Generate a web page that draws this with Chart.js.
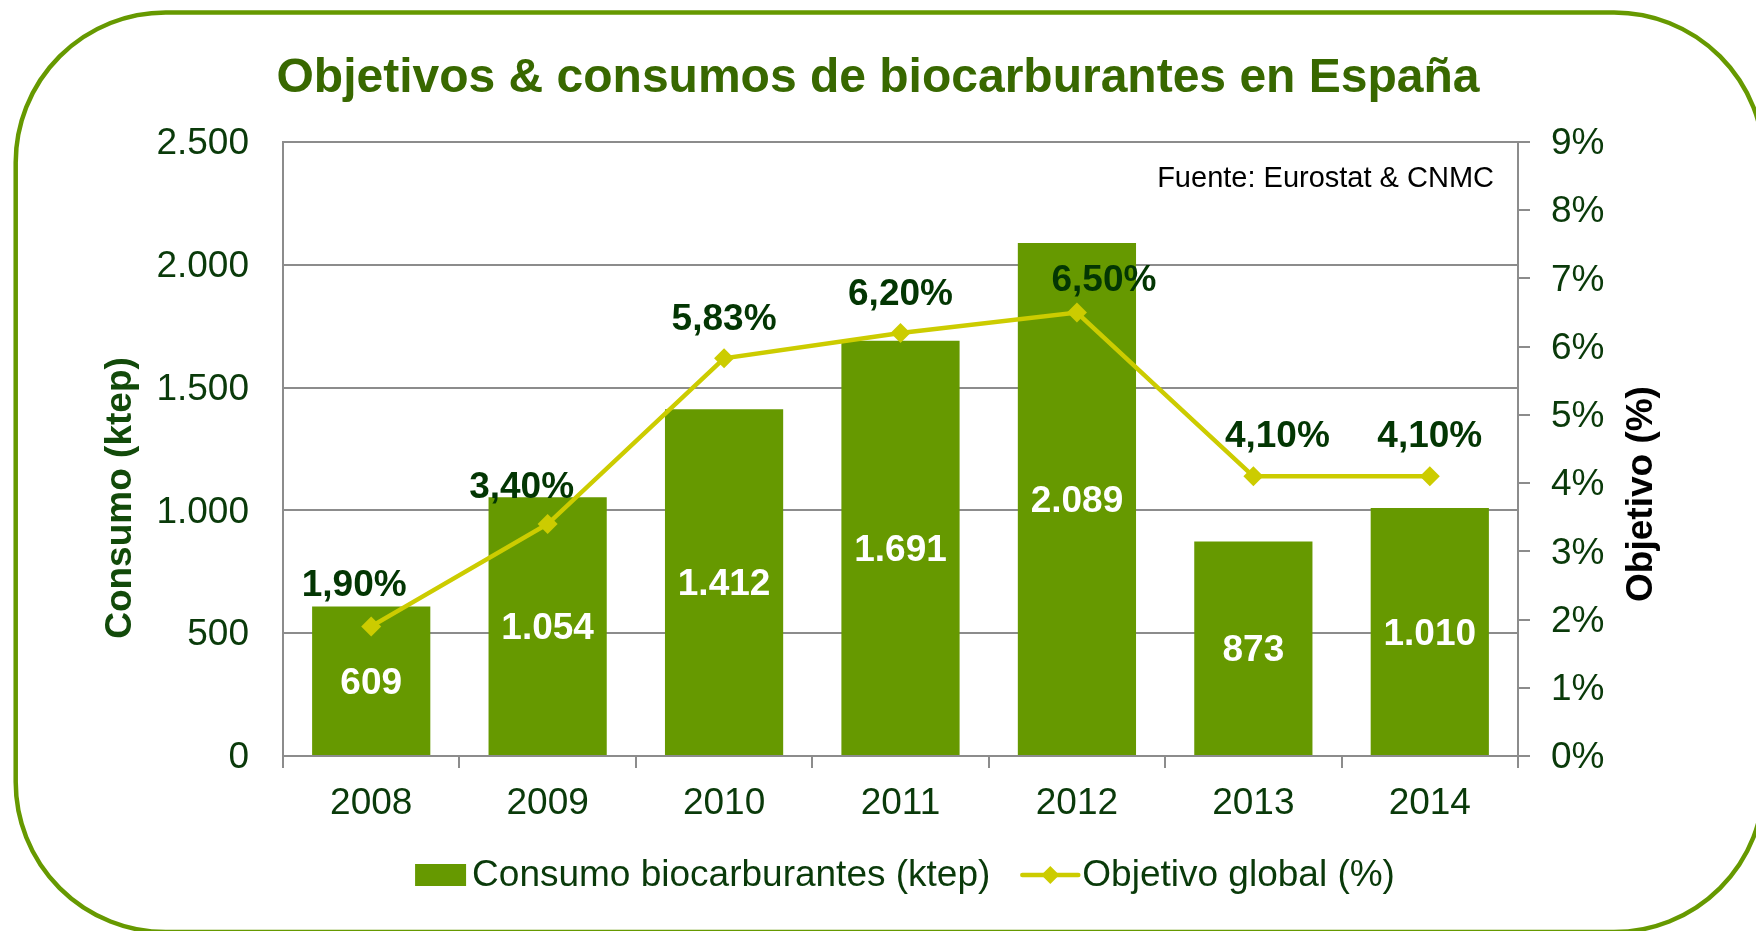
<!DOCTYPE html>
<html>
<head>
<meta charset="utf-8">
<script src="https://cdn.jsdelivr.net/npm/chart.js@4.4.1/dist/chart.umd.min.js"></script>
<style>
  html, body { margin: 0; padding: 0; background: #ffffff; }
  #wrap { width: 1756px; height: 931px; position: relative; }
</style>
</head>
<body>
<div id="wrap"><canvas id="c" width="1756" height="931"></canvas></div>
<script>
// ---- Data ----
const categories = ['2008', '2009', '2010', '2011', '2012', '2013', '2014'];
const consumo = [609, 1054, 1412, 1691, 2089, 873, 1010];
const objetivo = [1.90, 3.40, 5.83, 6.20, 6.50, 4.10, 4.10];
const leftTickLabels = ['0', '500', '1.000', '1.500', '2.000', '2.500'];
const rightTickLabels = ['0%', '1%', '2%', '3%', '4%', '5%', '6%', '7%', '8%', '9%'];
const seriesNames = ['Consumo biocarburantes (ktep)', 'Objetivo global (%)'];
const chartTitle = 'Objetivos & consumos de biocarburantes en España';
const sourceNote = 'Fuente: Eurostat & CNMC';
const leftAxisTitle = 'Consumo (ktep)';
const rightAxisTitle = 'Objetivo (%)';

// ---- Styles ----
const FONT = "'Liberation Sans', Arial, sans-serif";
const BAR = '#669900';
const LINE = '#cccc00';
const GRID = '#8c8c8c';
const DARK = '#0a3a0a';
const lineLabelNudge = [[-17, -41], [-26, -36], [0, -38], [0, -38], [27, -32], [24, -39], [0, -39]];

function fmtThousands(v) { return String(v).replace(/\B(?=(\d{3})+(?!\d))/g, '.'); }
function fmtPct(v) { return v.toFixed(2).replace('.', ',') + '%'; }

const decorPlugin = {
  id: 'decor',
  beforeDraw(chart) {
    const ctx = chart.ctx;
    ctx.save();
    ctx.strokeStyle = BAR;
    ctx.lineWidth = 4.5;
    ctx.beginPath();
    ctx.roundRect(15.7, 12.5, 1748.3, 919.5, 150);
    ctx.stroke();
    ctx.restore();
  },
  afterDraw(chart) {
    const ctx = chart.ctx;
    ctx.save();
    // source note
    ctx.font = '29px ' + FONT;
    ctx.fillStyle = '#000000';
    ctx.textAlign = 'right';
    ctx.textBaseline = 'middle';
    ctx.fillText(sourceNote, 1494, 179);
    // axis titles
    ctx.font = 'bold 37px ' + FONT;
    ctx.textAlign = 'center';
    ctx.save();
    ctx.translate(121, 498);
    ctx.rotate(-Math.PI / 2);
    ctx.fillStyle = '#124a0a';
    ctx.fillText(leftAxisTitle, 0, 0);
    ctx.restore();
    ctx.save();
    ctx.translate(1642, 494);
    ctx.rotate(-Math.PI / 2);
    ctx.fillStyle = '#000000';
    ctx.fillText(rightAxisTitle, 0, 0);
    ctx.restore();
    // legend
    ctx.font = '37px ' + FONT;
    ctx.textAlign = 'left';
    ctx.textBaseline = 'middle';
    const t1 = ctx.measureText(seriesNames[0]).width;
    const t2 = ctx.measureText(seriesNames[1]).width;
    const total = 51 + 6 + t1 + 32 + 56 + 4 + t2;
    let x = 905 - total / 2;
    const ly = 876;
    ctx.fillStyle = BAR;
    ctx.fillRect(x, ly - 12, 51, 22);
    x += 51 + 6;
    ctx.fillStyle = DARK;
    ctx.fillText(seriesNames[0], x, ly);
    x += t1 + 32;
    ctx.strokeStyle = LINE;
    ctx.lineWidth = 4.5;
    ctx.lineCap = 'round';
    ctx.beginPath();
    ctx.moveTo(x, ly - 1);
    ctx.lineTo(x + 56, ly - 1);
    ctx.stroke();
    ctx.fillStyle = LINE;
    ctx.beginPath();
    const cx = x + 28, cy = ly - 1;
    ctx.moveTo(cx, cy - 9); ctx.lineTo(cx + 9, cy); ctx.lineTo(cx, cy + 9); ctx.lineTo(cx - 9, cy); ctx.closePath();
    ctx.fill();
    x += 56 + 4;
    ctx.fillStyle = DARK;
    ctx.fillText(seriesNames[1], x, ly);
    ctx.restore();
  },
  afterDatasetsDraw(chart) {
    const ctx = chart.ctx;
    ctx.save();
    ctx.font = 'bold 37px ' + FONT;
    ctx.textAlign = 'center';
    ctx.textBaseline = 'middle';
    const barMeta = chart.getDatasetMeta(1);
    barMeta.data.forEach((el, i) => {
      ctx.fillStyle = '#ffffff';
      ctx.fillText(fmtThousands(consumo[i]), el.x, (el.y + el.base) / 2 + 3);
    });
    const lineMeta = chart.getDatasetMeta(0);
    lineMeta.data.forEach((el, i) => {
      ctx.fillStyle = '#033603';
      ctx.fillText(fmtPct(objetivo[i]), el.x + lineLabelNudge[i][0], el.y + lineLabelNudge[i][1]);
    });
    ctx.restore();
  }
};

Chart.defaults.font.family = FONT;

new Chart(document.getElementById('c'), {
  data: {
    labels: categories,
    datasets: [
      {
        type: 'line',
        label: seriesNames[1],
        data: objetivo,
        yAxisID: 'y1',
        borderColor: LINE,
        backgroundColor: LINE,
        borderWidth: 4.5,
        pointStyle: 'rectRot',
        pointRadius: 10,
        pointBorderWidth: 0,
        pointBackgroundColor: LINE,
        tension: 0,
        order: 0
      },
      {
        type: 'bar',
        label: seriesNames[0],
        data: consumo,
        yAxisID: 'y',
        backgroundColor: BAR,
        borderWidth: 0,
        categoryPercentage: 1,
        barPercentage: 0.67,
        order: 1
      }
    ]
  },
  options: {
    responsive: false,
    animation: false,
    devicePixelRatio: 1,
    layout: { padding: { top: 0, left: 0, right: 0, bottom: 0 } },
    plugins: {
      legend: { display: false },
      tooltip: { enabled: false },
      title: {
        display: true,
        text: chartTitle,
        color: '#386800',
        font: { size: 48, weight: 'bold', family: FONT, lineHeight: 1.2 },
        padding: { top: 50, bottom: 34.4 }
      }
    },
    scales: {
      x: {
        type: 'category',
        offset: true,
        afterFit(s) { s.height = 175; },
        grid: { offset: true, drawOnChartArea: false, drawTicks: true, tickLength: 12, color: GRID, lineWidth: 2 },
        border: { color: GRID, width: 2 },
        ticks: { color: DARK, font: { size: 37 }, padding: 14, maxRotation: 0 }
      },
      y: {
        position: 'left',
        min: 0, max: 2500,
        afterFit(s) { s.width = 283; },
        grid: { color: GRID, lineWidth: 2, drawTicks: false },
        border: { color: GRID, width: 2 },
        ticks: {
          stepSize: 500,
          color: DARK,
          font: { size: 37 },
          padding: 34,
          labelOffset: 2,
          callback: (v, i) => leftTickLabels[i]
        }
      },
      y1: {
        position: 'right',
        min: 0, max: 9,
        afterFit(s) { s.width = 238; },
        grid: { drawOnChartArea: false, drawTicks: true, tickLength: 12, color: GRID, lineWidth: 2 },
        border: { color: GRID, width: 2 },
        ticks: {
          stepSize: 1,
          color: DARK,
          font: { size: 37 },
          padding: 21,
          labelOffset: 2,
          callback: (v, i) => rightTickLabels[i]
        }
      }
    }
  },
  plugins: [decorPlugin]
});
</script>
</body>
</html>
